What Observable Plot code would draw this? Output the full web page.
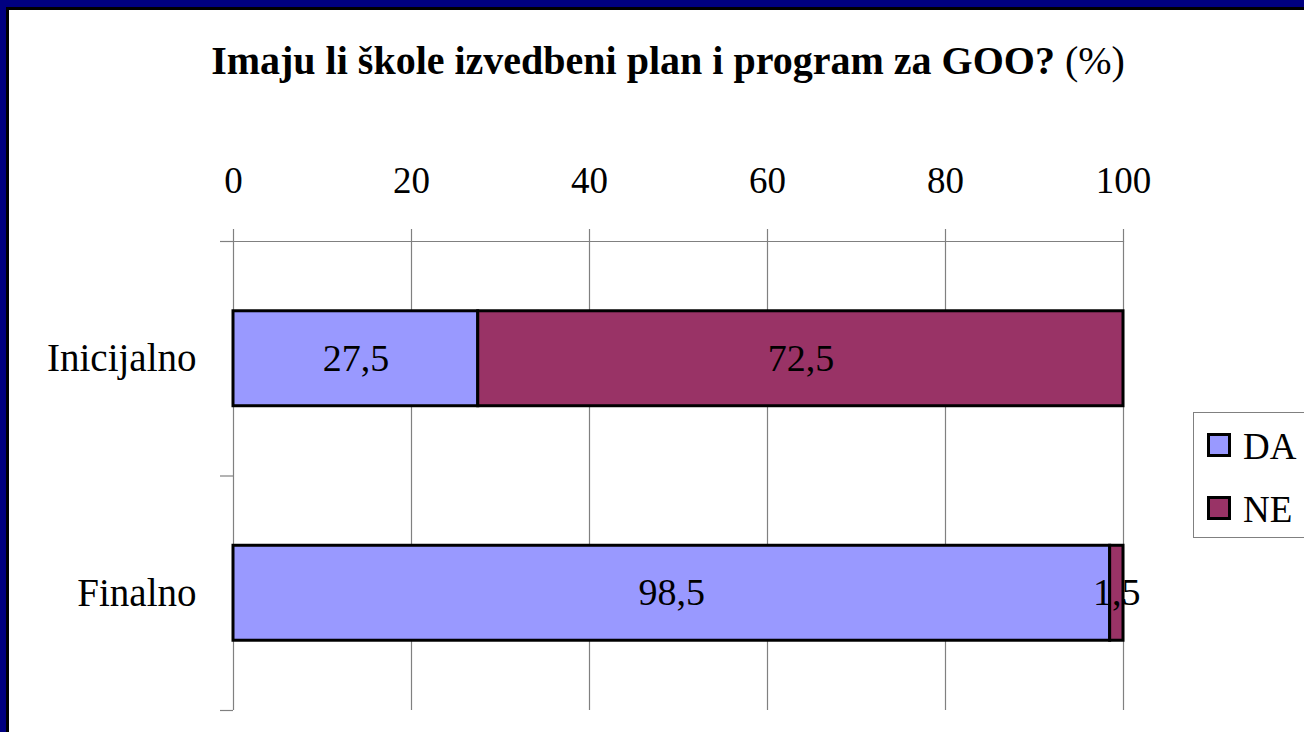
<!DOCTYPE html>
<html>
<head>
<meta charset="utf-8">
<script src="https://cdn.jsdelivr.net/npm/d3@7"></script>
<script src="https://cdn.jsdelivr.net/npm/@observablehq/plot@0.6"></script>
<style>
  html, body { margin: 0; padding: 0; background: white; overflow: hidden; }
  #wrap { position: relative; width: 1304px; height: 732px; overflow: hidden; background: white;
          font-family: "Liberation Serif", "DejaVu Serif", "Times New Roman", Times, serif; color: black; }
  #chart { position: absolute; left: 0; top: 0; }
  #title { position: absolute; left: 0; width: 1336px; top: 41px; text-align: center;
           font-size: 40px; line-height: 40px; font-weight: bold; white-space: nowrap; }
  #title span { font-weight: normal; }
  #legend { position: absolute; left: 1193px; top: 412px; width: 220px; height: 126px;
            border: 1px solid #808080; box-sizing: border-box; background: white; }
  .item { position: absolute; left: 13px; height: 24px; }
  .sw { position: absolute; left: 0; top: 0; width: 24px; height: 24px; box-sizing: border-box; border: 3px solid black; }
  .lab { position: absolute; left: 36px; top: 2px; font-size: 37px; line-height: 24px; white-space: nowrap; }
  #frame1 { position: absolute; left: 0; top: 0; width: 2000px; height: 2000px; box-sizing: border-box;
            border-left: 6px solid #000080; border-top: 7px solid #000080; pointer-events: none; }
  #frame2 { position: absolute; left: 6px; top: 7px; width: 2000px; height: 2000px; box-sizing: border-box;
            border-left: 3px solid black; border-top: 3px solid black; pointer-events: none; }
</style>
</head>
<body>
<div id="wrap">
  <div id="chart"></div>
  <div id="title"></div>
  <div id="legend"></div>
  <div id="frame1"></div>
  <div id="frame2"></div>
</div>
<script>
// ---- data ----
const categories = ["Inicijalno", "Finalno"];
const seriesNames = ["DA", "NE"];
const seriesColors = ["#9999FF", "#993366"];
const daValues = [27.5, 98.5];
const neValues = [72.5, 1.5];
const xTicks = [0, 20, 40, 60, 80, 100];
const titleMain = "Imaju li škole izvedbeni plan i program za GOO?";
const titleUnit = "(%)";

// ---- derived table ----
const FONT = "\"Liberation Serif\", \"DejaVu Serif\", \"Times New Roman\", Times, serif";
const BAR_HALF = 0.2025;
const fmt = v => String(v).replace(".", ",");
const rows = [];
categories.forEach((cat, i) => {
  rows.push({cat, i, series: "DA", v: daValues[i], x1: 0, x2: daValues[i]});
  rows.push({cat, i, series: "NE", v: neValues[i], x1: daValues[i], x2: daValues[i] + neValues[i]});
});
const boundaries = d3.range(categories.length + 1);

const chart = Plot.plot({
  width: 1304,
  height: 732,
  marginLeft: 233,
  marginRight: 181,
  marginTop: 241,
  marginBottom: 22,
  style: {fontFamily: FONT, fontSize: "37px", color: "black", background: "transparent", overflow: "visible"},
  x: {domain: [0, 100]},
  y: {domain: [0, categories.length], reverse: true},
  color: {domain: seriesNames, range: seriesColors},
  marks: [
    Plot.ruleX(xTicks, {x: d => d, y1: 0, y2: categories.length, stroke: "#808080", strokeWidth: 1.2}),
    Plot.axisX(xTicks, {anchor: "top", tickSize: 13, tickPadding: 36, stroke: "#808080", strokeWidth: 1.2, fill: "black", fontSize: 37, fontFamily: FONT, tickFormat: d => String(d)}),
    Plot.ruleY([0], {stroke: "#808080", strokeWidth: 1.2}),
    Plot.axisY(boundaries, {anchor: "left", tickSize: 13, tickFormat: () => "", stroke: "#808080", strokeWidth: 1.2}),
    Plot.text(categories, {x: 0, y: (d, i) => i + 0.5, text: d => d, textAnchor: "end", dx: -37, fontSize: 39, fontFamily: FONT, fill: "black"}),
    Plot.rectX(rows, {x1: "x1", x2: "x2", y1: d => d.i + 0.5 - BAR_HALF, y2: d => d.i + 0.5 + BAR_HALF, fill: "series", stroke: "black", strokeWidth: 3}),
    Plot.text(rows, {x: d => (d.x1 + d.x2) / 2, y: d => d.i + 0.5, text: d => fmt(d.v), fontSize: 38, fontFamily: FONT, fill: "black"})
  ]
});
document.getElementById("chart").appendChild(chart);

// title
const t = document.getElementById("title");
t.textContent = titleMain + " ";
const u = document.createElement("span");
u.textContent = titleUnit;
t.appendChild(u);

// legend
const lg = document.getElementById("legend");
seriesNames.forEach((s, k) => {
  const it = document.createElement("div");
  it.className = "item";
  it.style.top = (20 + k * 63) + "px";
  const sw = document.createElement("div");
  sw.className = "sw";
  sw.style.background = seriesColors[k];
  const lb = document.createElement("div");
  lb.className = "lab";
  lb.textContent = s;
  it.appendChild(sw);
  it.appendChild(lb);
  lg.appendChild(it);
});
</script>
</body>
</html>
